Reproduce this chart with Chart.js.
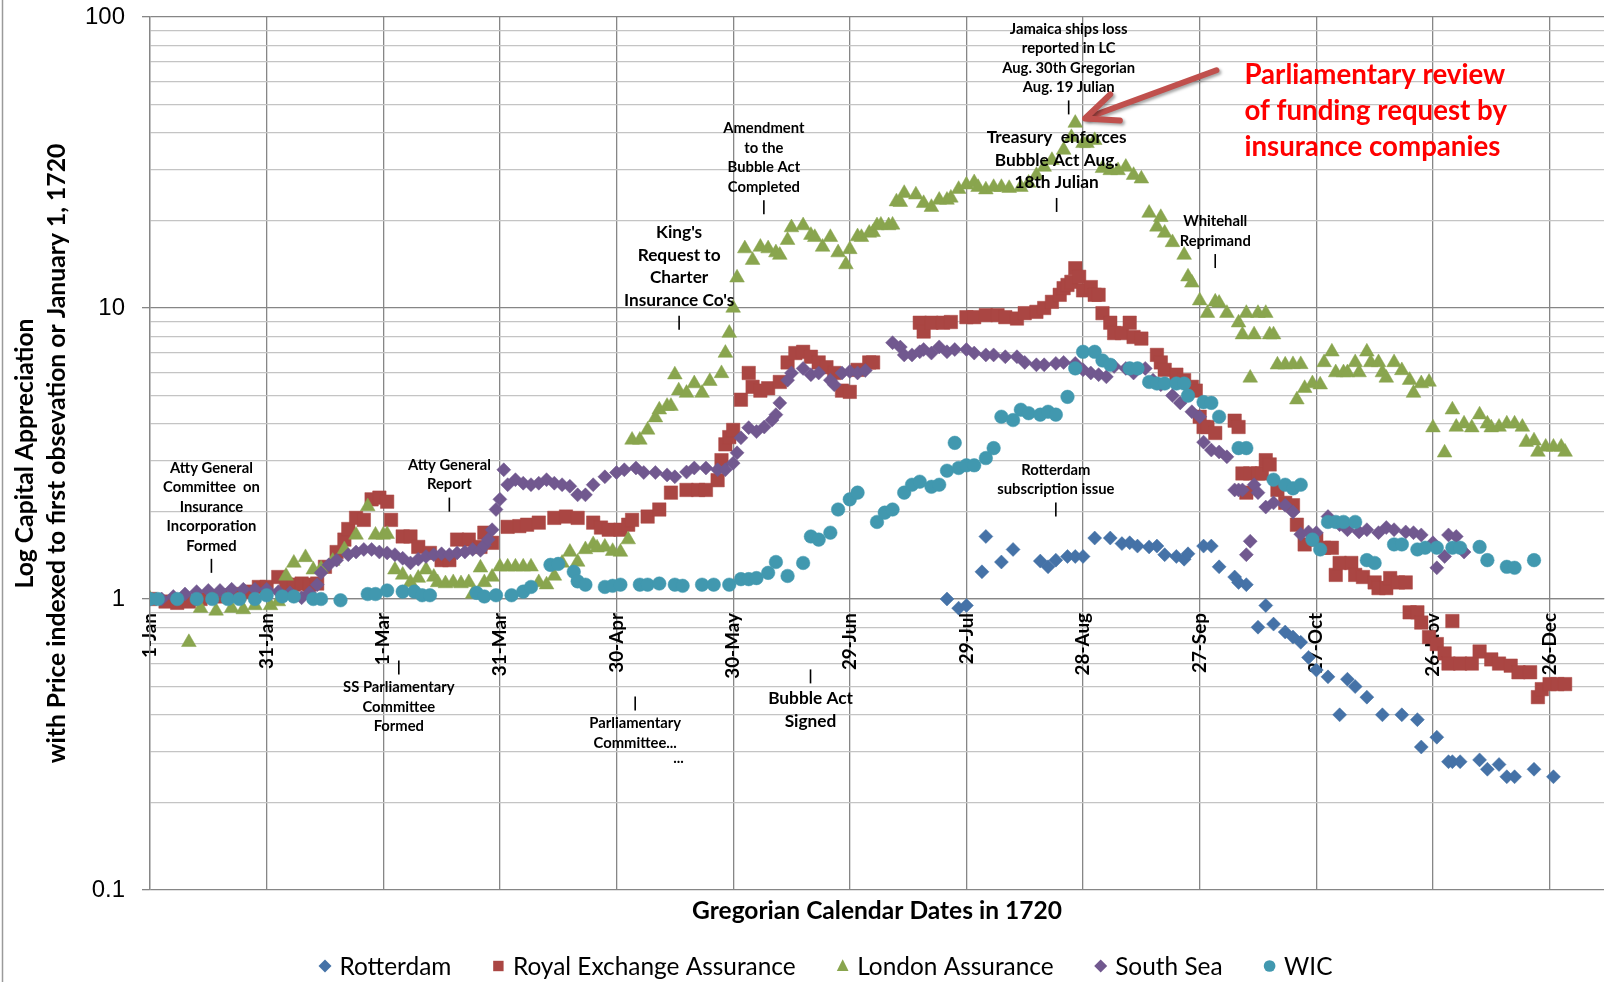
<!DOCTYPE html>
<html><head><meta charset="utf-8">
<script src="https://cdn.jsdelivr.net/npm/chart.js@4.4.1/dist/chart.umd.min.js"></script>
<style>html,body{margin:0;padding:0;background:#fff;}canvas{display:block;}</style>
</head><body><canvas id="c" width="1614" height="982"></canvas>
<script>
// ---------------- DATA ----------------
const seriesNames = ['Rotterdam','Royal Exchange Assurance','London Assurance','South Sea','WIC'];
const xTickDays = [0,30,60,90,120,150,180,210,240,270,300,330,360];
const xTickLabels = ['1-Jan','31-Jan','1-Mar','31-Mar','30-Apr','30-May','29-Jun','29-Jul','28-Aug','27-Sep','27-Oct','26-Nov','26-Dec'];
const yMajorTicks = [0.1,1,10,100];
const xTitle = 'Gregorian Calendar Dates in 1720';
const yTitle = ['Log Capital Appreciation','with Price indexed to first obsevation or January 1, 1720'];

const rotterdam = [[0,1.0],[205,1.0],[208,0.93],[210,0.95],[214,1.24],[215,1.64],[219,1.34],[222,1.48],[229,1.35],[231,1.29],[233,1.36],[236,1.4],[238,1.4],[240,1.4],[243,1.62],[247,1.62],[250,1.55],[252,1.56],[254,1.52],[257,1.51],[259,1.52],[261,1.42],[264,1.4],[266,1.37],[267,1.43],[271,1.52],[273,1.52],[275,1.29],[279,1.19],[280,1.14],[282,1.12],[285,0.8],[287,0.95],[289,0.82],[292,0.77],[294,0.74],[296,0.71],[298,0.63],[300,0.57],[303,0.54],[306,0.4],[308,0.53],[310,0.5],[313,0.46],[317,0.4],[322,0.4],[326,0.385],[327,0.31],[331,0.335],[334,0.276],[335,0.276],[337,0.276],[342,0.28],[344,0.26],[347,0.27],[349,0.245],[351,0.245],[356,0.26],[361,0.245]];

const royalExchange = [[0,1.0],[4,0.98],[7,0.97],[10,0.98],[13,1.0],[17,1.02],[20,1.03],[23,1.04],[26,1.06],[28,1.1],[30,1.1],[33,1.19],[35,1.12],[37,1.12],[39,1.13],[41,1.12],[43,1.13],[45,1.29],[48,1.45],[50,1.6],[51,1.74],[53,1.9],[55,1.87],[57,2.2],[59,2.23],[61,2.16],[62,1.87],[65,1.64],[67,1.64],[69,1.51],[72,1.44],[75,1.36],[77,1.36],[79,1.6],[82,1.6],[85,1.51],[86,1.69],[88,1.56],[92,1.77],[95,1.78],[97,1.8],[100,1.83],[104,1.9],[107,1.92],[110,1.9],[114,1.83],[116,1.76],[118,1.73],[121,1.73],[123,1.8],[124,1.87],[128,1.92],[131,2.03],[134,2.32],[138,2.37],[141,2.37],[143,2.37],[146,2.56],[147,3.0],[148,3.4],[149,3.6],[150,3.81],[152,4.84],[154,5.98],[155,5.36],[157,5.2],[159,5.3],[162,5.57],[164,6.5],[166,7.0],[168,7.07],[170,6.8],[172,6.5],[174,6.26],[176,5.98],[178,5.2],[180,5.15],[182,6.13],[185,6.5],[186,6.5],[198,8.9],[199,8.3],[201,8.9],[204,8.9],[206,8.95],[210,9.3],[212,9.3],[215,9.45],[218,9.45],[220,9.3],[223,9.2],[225,9.6],[228,9.7],[230,10],[232,10.5],[234,11.1],[235,11.7],[236,12],[237,12.3],[238,13.7],[239,12.8],[240,11.5],[242,11.8],[243,11.1],[244,11.1],[245,9.6],[247,8.9],[248,8.2],[250,8.2],[252,8.9],[253,7.95],[255,7.85],[259,6.9],[260,6.5],[261,6.13],[264,5.9],[266,5.65],[268,5.36],[269,5.2],[270,4.23],[271,3.9],[272,3.9],[274,3.72],[279,4.1],[280,3.9],[281,2.7],[282,2.32],[283,2.7],[285,2.7],[286,2.7],[287,3.0],[288,2.9],[290,2.37],[292,2.14],[294,2.1],[295,1.8],[297,1.54],[300,1.6],[302,1.5],[304,1.5],[305,1.21],[306,1.33],[309,1.33],[310,1.21],[312,1.19],[315,1.14],[316,1.09],[318,1.09],[319,1.18],[321,1.14],[323,1.14],[324,0.9],[326,0.9],[327,0.83],[329,0.74],[331,0.7],[333,0.65],[334,0.6],[335,0.84],[337,0.6],[340,0.6],[342,0.66],[345,0.62],[347,0.6],[350,0.59],[352,0.56],[355,0.56],[357,0.46],[358,0.49],[360,0.51],[362,0.51],[364,0.51]];

const londonAssurance = [[0,1.0],[10,0.71],[13,0.93],[17,0.91],[21,0.93],[24,0.92],[27,0.95],[31,0.95],[33,0.98],[35,1.2],[37,1.33],[40,1.39],[42,1.26],[44,1.27],[47,1.35],[50,1.48],[53,1.66],[56,2.08],[58,1.66],[60,1.66],[61,1.67],[63,1.26],[65,1.21],[67,1.14],[69,1.18],[71,1.26],[73,1.19],[74,1.14],[76,1.13],[78,1.14],[80,1.13],[82,1.14],[83,1.04],[85,1.28],[86,1.14],[88,1.19],[90,1.29],[92,1.29],[94,1.29],[96,1.29],[98,1.29],[100,1.14],[102,1.12],[104,1.2],[106,1.33],[108,1.45],[110,1.34],[112,1.48],[114,1.54],[115,1.5],[117,1.51],[119,1.46],[121,1.45],[123,1.6],[124,3.52],[126,3.52],[128,3.81],[130,4.2],[131,4.47],[133,4.6],[134,4.6],[135,5.9],[136,5.2],[138,5.1],[140,5.5],[142,5.1],[144,5.6],[147,5.96],[148,7.0],[149,8.2],[150,10.0],[151,12.7],[153,16],[155,14.6],[157,16.2],[159,16],[161,15.5],[162,15.2],[164,17.1],[165,18.9],[168,19.2],[170,17.8],[171,17.5],[173,16.2],[175,17.5],[177,15.5],[179,14.1],[180,15.9],[182,17.6],[183,17.5],[185,18.1],[186,18.2],[187,19.2],[188,19.3],[190,19.2],[191,19.3],[192,23.2],[193,23.1],[194,24.8],[197,24.5],[199,22.9],[201,22.2],[203,23.5],[205,23.5],[206,23.9],[208,25.6],[210,26.5],[212,27],[213,26],[215,25.5],[217,26],[219,26],[221,25.8],[224,26],[226,26.9],[228,28.6],[230,30.5],[232,32.2],[235,34.9],[237,38.6],[238,43.2],[240,36.8],[241,36.8],[243,37.7],[245,30.2],[247,29.7],[249,29.7],[251,30.5],[253,28.6],[255,27.8],[257,21.2],[259,19],[260,20.5],[261,18.1],[263,16.8],[266,15.2],[267,12.8],[268,12.2],[270,10.6],[272,9.6],[274,10.5],[275,10.4],[277,9.6],[280,8.9],[281,8.1],[282,9.6],[283,5.75],[284,8.1],[285,9.6],[287,9.6],[288,8.1],[289,8.1],[290,6.38],[292,6.38],[294,6.4],[295,4.84],[296,6.4],[297,5.3],[299,5.5],[301,5.45],[302,6.5],[304,7.07],[305,6.0],[307,6.0],[308,6.0],[310,6.5],[311,6.0],[313,7.07],[314,6.5],[316,6.5],[317,6.0],[318,5.75],[320,6.5],[322,6.1],[324,5.65],[325,5.1],[327,5.5],[329,5.57],[330,3.88],[333,3.18],[335,4.47],[336,3.9],[338,4.0],[340,3.88],[342,4.3],[344,4.0],[345,3.88],[347,3.9],[349,4.0],[351,4.0],[353,3.9],[354,3.46],[356,3.5],[357,3.2],[359,3.33],[361,3.33],[363,3.33],[364,3.2]];

const southSea = [[0,1.0],[3,1.0],[6,1.02],[9,1.04],[12,1.06],[15,1.07],[18,1.07],[21,1.08],[24,1.08],[27,1.08],[30,1.08],[33,1.06],[36,1.05],[39,1.01],[41,1.05],[43,1.12],[44,1.23],[46,1.31],[48,1.36],[51,1.42],[53,1.45],[55,1.48],[57,1.48],[59,1.45],[61,1.44],[63,1.42],[65,1.38],[67,1.33],[69,1.37],[71,1.4],[73,1.42],[75,1.43],[77,1.42],[79,1.44],[81,1.45],[83,1.48],[85,1.47],[86,1.53],[87,1.6],[88,1.73],[89,2.03],[90,2.2],[91,2.78],[92,2.47],[94,2.57],[96,2.5],[98,2.47],[100,2.5],[102,2.57],[104,2.5],[106,2.47],[108,2.44],[110,2.28],[112,2.28],[114,2.47],[117,2.63],[120,2.72],[122,2.78],[125,2.82],[127,2.72],[130,2.72],[133,2.67],[135,2.63],[138,2.73],[140,2.82],[143,2.82],[146,2.78],[148,2.78],[150,2.93],[151,3.18],[152,3.58],[154,3.88],[156,3.76],[158,3.9],[160,4.12],[161,4.3],[162,4.72],[164,5.65],[165,5.98],[168,6.2],[170,5.9],[172,5.98],[175,5.65],[176,5.45],[178,5.98],[180,6.05],[182,5.98],[184,6.1],[191,7.6],[193,7.34],[194,6.9],[196,6.9],[198,7.07],[199,7.2],[201,7.0],[203,7.35],[205,7.07],[207,7.2],[210,7.2],[212,7.0],[215,6.9],[217,6.9],[220,6.8],[223,6.8],[225,6.5],[228,6.38],[230,6.38],[233,6.45],[235,6.5],[238,6.45],[240,6.13],[242,5.98],[244,5.9],[246,5.8],[248,6.3],[251,6.2],[253,5.98],[256,6.2],[258,5.65],[260,5.45],[263,5.0],[265,4.72],[268,4.4],[270,4.23],[271,3.46],[273,3.25],[275,3.2],[277,3.08],[279,2.37],[280,2.37],[281,2.37],[282,1.42],[283,1.58],[284,2.47],[285,2.32],[287,2.07],[289,2.14],[292,2.1],[294,1.99],[296,1.67],[298,1.7],[300,1.69],[303,1.92],[306,1.8],[308,1.73],[311,1.7],[313,1.73],[316,1.69],[318,1.76],[320,1.73],[323,1.7],[325,1.69],[327,1.66],[330,1.56],[331,1.28],[333,1.4],[334,1.66],[336,1.64],[338,1.45]];

const wic = [[0,1.0],[2,1.0],[7,1.0],[12,1.0],[16,1.0],[20,1.0],[23,1.0],[27,1.0],[30,1.03],[34,1.02],[37,1.02],[42,1.0],[44,1.0],[49,0.99],[56,1.04],[58,1.04],[61,1.07],[65,1.06],[68,1.06],[70,1.03],[72,1.03],[84,1.05],[86,1.02],[89,1.03],[93,1.03],[96,1.06],[98,1.1],[103,1.31],[105,1.32],[109,1.24],[110,1.15],[112,1.12],[117,1.1],[119,1.11],[121,1.12],[126,1.12],[128,1.12],[131,1.13],[135,1.12],[137,1.11],[142,1.12],[145,1.12],[149,1.12],[152,1.17],[154,1.17],[156,1.18],[159,1.23],[161,1.34],[164,1.2],[168,1.33],[170,1.64],[172,1.6],[175,1.69],[177,2.03],[180,2.2],[182,2.32],[187,1.84],[189,1.98],[191,2.03],[194,2.32],[196,2.47],[198,2.53],[201,2.43],[203,2.47],[205,2.76],[207,3.44],[208,2.82],[210,2.88],[212,2.88],[215,3.05],[217,3.3],[219,4.23],[222,4.12],[224,4.47],[226,4.35],[229,4.3],[231,4.4],[233,4.3],[236,4.95],[238,6.2],[240,7.07],[243,7.07],[245,6.6],[247,6.38],[252,6.2],[254,6.2],[257,5.57],[259,5.5],[261,5.5],[264,5.5],[266,5.5],[267,5.0],[271,4.75],[273,4.72],[275,4.23],[280,3.3],[282,3.3],[289,2.57],[292,2.47],[294,2.4],[296,2.47],[299,1.6],[301,1.48],[303,1.84],[305,1.84],[307,1.84],[310,1.84],[313,1.36],[315,1.33],[320,1.54],[322,1.54],[326,1.48],[328,1.5],[331,1.5],[335,1.5],[337,1.5],[342,1.51],[344,1.36],[349,1.29],[351,1.28],[356,1.36]];

// event notes: text lines anchored at (day, value) of the tick mark
const eventNotes = [
  {lines:['Atty General','Committee  on','Insurance','Incorporation','Formed'], day:15.8, value:1.30, side:'above', big:false},
  {lines:['Atty General','Report'], day:77, value:2.11, side:'above', big:false},
  {lines:['SS Parliamentary','Committee','Formed'], day:64, value:0.581, side:'below', big:false},
  {lines:["King's",'Request to','Charter',"Insurance Co's"], day:136.1, value:8.9, side:'above', big:true},
  {lines:['Amendment','to the','Bubble Act','Completed'], day:157.9, value:22.2, side:'above', big:false},
  {lines:['Parliamentary','Committee...','...'], day:124.8, value:0.437, side:'below', big:false},
  {lines:['Bubble Act','Signed'], day:169.9, value:0.542, side:'below', big:true},
  {lines:['Jamaica ships loss','reported in LC','Aug. 30th Gregorian','Aug. 19 Julian'], day:236.3, value:48.9, side:'above', big:false},
  {lines:['Treasury  enforces','Bubble Act Aug.','18th Julian'], day:233.2, value:22.6, side:'above', big:true},
  {lines:['Whitehall','Reprimand'], day:274, value:14.5, side:'above', big:false},
  {lines:['Rotterdam','subscription issue'], day:233, value:2.03, side:'above', big:false}
];
const calloutLines = ['Parliamentary review','of funding request by','insurance companies'];
const calloutAnchor = {day:281.5, value:63.1};
const arrowFrom = {day:274.3, value:65.6};
const arrowTo = {day:240.5, value:44.8};

// ---------------- STYLE ----------------
const colors = ['#4572A7','#AA4643','#89A54E','#71588F','#4198AF'];
const styles = ['rectRot','rect','triangle','rectRot','circle'];
const radii = [7,9.5,8.5,7,6.8];
const orders = [5,4,3,2,1];

const mctx = document.createElement('canvas').getContext('2d');
function fitSize(text, target, weight, family){
  mctx.font = weight + ' 100px ' + family;
  return 100 * target / mctx.measureText(text).width;
}
const FAM = 'Lato, "Open Sans", sans-serif';
const xTickSize = fitSize('31-Jan', 56, 'bold', FAM);
const yTickSize = fitSize('100', 40, 'normal', '"Liberation Sans", Arial');
const legendSize = fitSize('Royal Exchange Assurance', 283, 'normal', FAM);
const noteSmall = fitSize('Atty General', 83, 'bold', FAM);
const noteBig = fitSize('Request to', 83, 'bold', FAM);
const redSize = fitSize('Parliamentary review', 261, 'bold', FAM);
const yTitleSize = fitSize(yTitle[1], 620, 'bold', FAM);
const xTitleSize = fitSize(xTitle, 370, 'bold', FAM);

const isMajor = v => Math.abs(Math.log10(v) - Math.round(Math.log10(v))) < 1e-6;
const yTickValues = [];
[0.1,1,10].forEach(d => { for (let m=1;m<=9;m++) yTickValues.push(+(d*m).toPrecision(3)); });
yTickValues.push(100);

const toXY = arr => arr.map(p => ({x:p[0], y:p[1]}));
const seriesData = [rotterdam, royalExchange, londonAssurance, southSea, wic];

function drawMarker(ctx, style, x, y, s, color){
  ctx.fillStyle = color;
  ctx.beginPath();
  if (style==='rectRot'){ ctx.moveTo(x, y-s); ctx.lineTo(x+s, y); ctx.lineTo(x, y+s); ctx.lineTo(x-s, y); }
  else if (style==='rect'){ ctx.rect(x-s*0.8, y-s*0.8, s*1.6, s*1.6); }
  else if (style==='triangle'){ ctx.moveTo(x, y-s*1.05); ctx.lineTo(x+s*0.9, y+s*0.75); ctx.lineTo(x-s*0.9, y+s*0.75); }
  else { ctx.arc(x, y, s*0.9, 0, Math.PI*2); }
  ctx.closePath(); ctx.fill();
}

const decor = {
  id:'decor',
  beforeDraw(chart){
    const ctx = chart.ctx;
    ctx.save();
    ctx.fillStyle = '#fff'; ctx.fillRect(0,0,chart.width,chart.height);
    ctx.strokeStyle = '#9a9a9a'; ctx.lineWidth = 1.5;
    ctx.beginPath(); ctx.moveTo(2.5,0); ctx.lineTo(2.5,chart.height); ctx.stroke();
    ctx.restore();
  },
  afterDraw(chart){
    const ctx = chart.ctx, xs = chart.scales.x, ys = chart.scales.y, ca = chart.chartArea;
    ctx.save();
    // axis titles
    ctx.fillStyle = '#000'; ctx.textAlign = 'center'; ctx.textBaseline = 'middle';
    ctx.font = 'bold ' + xTitleSize + 'px ' + FAM;
    ctx.fillText(xTitle, (ca.left+ca.right)/2, 911);
    ctx.font = 'bold ' + yTitleSize + 'px ' + FAM;
    const cy = (ca.top+ca.bottom)/2;
    [25, 57].forEach((xx, i) => {
      ctx.save(); ctx.translate(xx, cy); ctx.rotate(-Math.PI/2); ctx.fillText(yTitle[i], 0, 0); ctx.restore();
    });
    // event notes
    eventNotes.forEach(n => {
      const px = xs.getPixelForValue(n.day), py = ys.getPixelForValue(n.value);
      const fs = n.big ? noteBig : noteSmall;
      const lh = n.big ? 22.5 : 19.5;
      const gap = n.big ? 22.5 : 20;
      ctx.strokeStyle = '#000'; ctx.lineWidth = 1.6;
      ctx.beginPath(); ctx.moveTo(px, py-7); ctx.lineTo(px, py+7); ctx.stroke();
      ctx.font = 'bold ' + fs + 'px ' + FAM;
      ctx.fillStyle = '#000';
      const k = n.lines.length;
      n.lines.forEach((t, i) => {
        let ly = n.side==='above' ? py - gap - (k-1-i)*lh : py + gap + i*lh;
        if (t === '...' && i>0){
          const prevW = ctx.measureText(n.lines[i-1]).width;
          ly = py + gap + (i-1)*lh + 15;
          ctx.textAlign = 'right';
          ctx.fillText(t, px + prevW/2 + 7, ly);
          ctx.textAlign = 'center';
        } else {
          ctx.fillText(t, px, ly);
        }
      });
    });
    // red arrow
    const ax0 = xs.getPixelForValue(arrowFrom.day), ay0 = ys.getPixelForValue(arrowFrom.value);
    const ax1 = xs.getPixelForValue(arrowTo.day), ay1 = ys.getPixelForValue(arrowTo.value);
    const dx = ax0-ax1, dy = ay0-ay1, L = Math.hypot(dx,dy), ux = dx/L, uy = dy/L, vx = -uy, vy = ux;
    ctx.save();
    ctx.shadowColor = 'rgba(0,0,0,0.35)'; ctx.shadowOffsetX = 2; ctx.shadowOffsetY = 2; ctx.shadowBlur = 3;
    ctx.strokeStyle = '#C0504D'; ctx.lineWidth = 6; ctx.lineCap = 'round'; ctx.lineJoin = 'round';
    ctx.beginPath(); ctx.moveTo(ax0, ay0); ctx.lineTo(ax1+ux*3, ay1+uy*3); ctx.stroke();
    ctx.beginPath();
    ctx.moveTo(ax1+ux*32+vx*14, ay1+uy*32+vy*14); ctx.lineTo(ax1, ay1); ctx.lineTo(ax1+ux*32-vx*14, ay1+uy*32-vy*14);
    ctx.stroke();
    ctx.restore();
    // red callout
    const rx = xs.getPixelForValue(calloutAnchor.day), ry = ys.getPixelForValue(calloutAnchor.value);
    ctx.fillStyle = '#FF0000'; ctx.textAlign = 'left'; ctx.textBaseline = 'middle';
    ctx.font = 'bold ' + redSize + 'px ' + FAM;
    calloutLines.forEach((t,i) => ctx.fillText(t, rx, ry + i*35.8));
    // legend
    ctx.font = legendSize + 'px ' + FAM;
    const widths = seriesNames.map(t => ctx.measureText(t).width);
    const markGap = 14.5, itemGap = 47;
    let total = 5.5; widths.forEach((w,i) => { total += markGap + w + (i<widths.length-1 ? itemGap : 0); });
    let lx = 826 - total/2 + 5.5;
    const ly = 966;
    seriesNames.forEach((t,i) => {
      drawMarker(ctx, styles[i], lx, ly, 6.5, colors[i]);
      ctx.fillStyle = '#000'; ctx.textAlign='left';
      ctx.fillText(t, lx + markGap, ly + 1);
      lx += markGap + widths[i] + itemGap;
    });
    ctx.restore();
  }
};

Chart.defaults.font.family = FAM;
new Chart(document.getElementById('c'), {
  type:'scatter',
  data:{ datasets: seriesNames.map((name,i) => ({
    label:name, data:toXY(seriesData[i]), pointStyle:styles[i], pointRadius:radii[i],
    backgroundColor:colors[i], borderColor:colors[i], borderWidth:0.5, order:orders[i], showLine:false
  }))},
  options:{
    responsive:false, animation:false, events:[],
    layout:{ padding:{ left:0, top:17, right:7, bottom:92 } },
    plugins:{ legend:{display:false}, tooltip:{enabled:false}, title:{display:false} },
    scales:{
      x:{ type:'linear', min:0, max:374, position:{y:1},
        afterBuildTicks: s => { s.ticks = xTickDays.map(v => ({value:v})); },
        ticks:{ autoSkip:false, minRotation:90, maxRotation:90, padding:14, color:'#000',
          font:{ family:FAM, weight:'bold', size:xTickSize },
          callback: v => { const k = xTickDays.indexOf(v); return k>=0 ? xTickLabels[k] : ''; } },
        grid:{ color:'#868686', lineWidth:1.3, drawTicks:false },
        border:{ color:'#868686', width:1.3 }
      },
      y:{ type:'logarithmic', min:0.1, max:100,
        afterBuildTicks: s => { s.ticks = yTickValues.map(v => ({value:v})); },
        afterFit: s => { s.width = 150; s.paddingTop = 0; s.paddingBottom = 0; },
        ticks:{ autoSkip:false, padding:17, color:'#000', font:{ family:'"Liberation Sans", Arial', size:yTickSize },
          callback: v => isMajor(v) ? String(yMajorTicks.find(m => Math.abs(m-v)<1e-9) ?? v) : '' },
        grid:{ color: c => isMajor(c.tick.value) ? '#868686' : '#C4C4C4', lineWidth:1.3, tickLength:8,
          tickColor: c => isMajor(c.tick.value) ? '#868686' : 'rgba(0,0,0,0)' },
        border:{ color:'#868686', width:1.3 }
      }
    }
  },
  plugins:[decor]
});
</script></body></html>
